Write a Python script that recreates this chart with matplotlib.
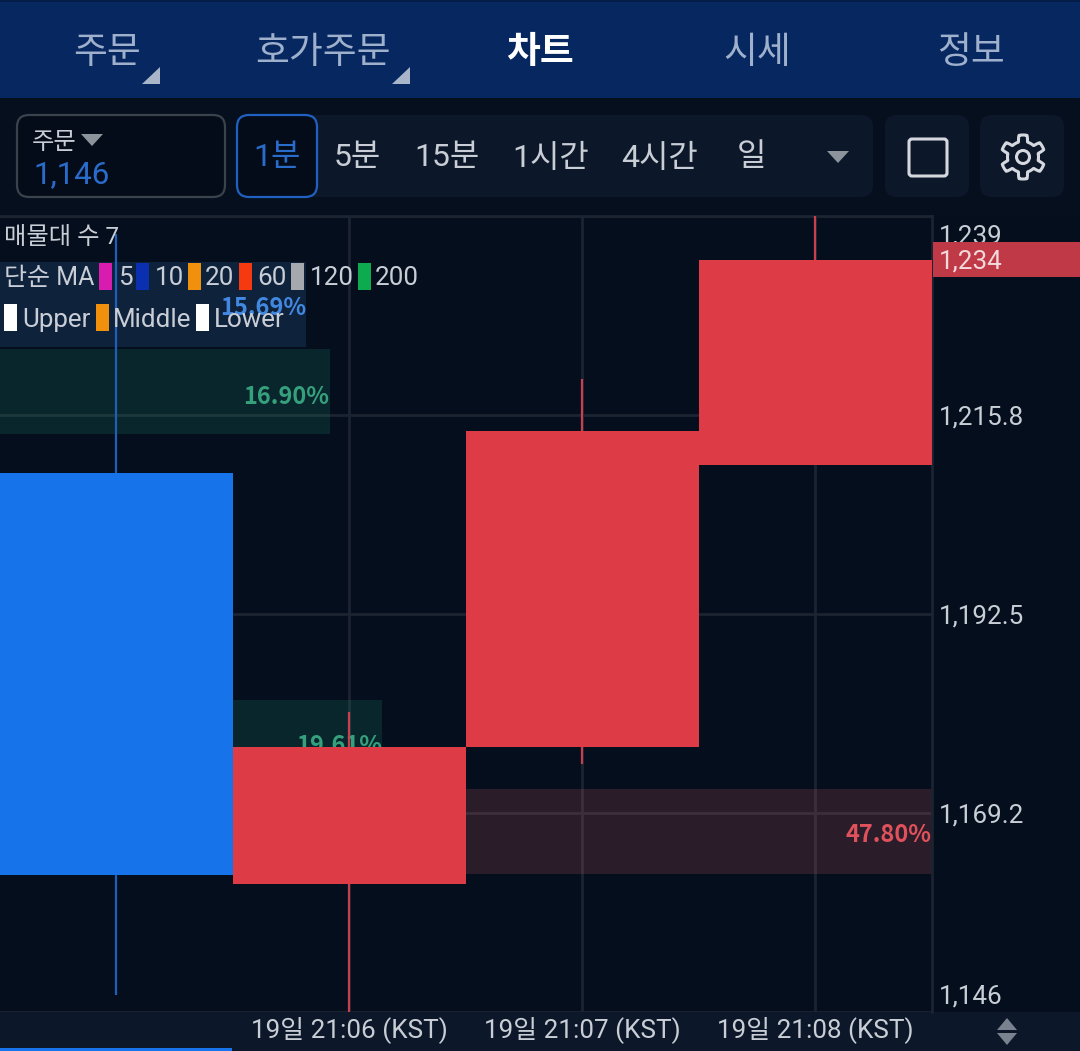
import numpy as np
import matplotlib
matplotlib.use("Agg")
import matplotlib.pyplot as plt
from matplotlib.patches import FancyBboxPatch, Rectangle, Polygon, Circle
from matplotlib.transforms import ScaledTranslation

plt.rcParams['font.family'] = ['Roboto', 'Noto Sans CJK KR', 'DejaVu Sans']
KR = ['Noto Sans CJK KR', 'Roboto', 'DejaVu Sans']

# ---------- data ----------
time_labels = ['19일 21:06 (KST)', '19일 21:07 (KST)', '19일 21:08 (KST)']
candle_pos = [0, 1, 2, 3]
opens = [1209.0, 1161.0, 1177.0, 1209.9]
closes = [1162.0, 1177.0, 1213.9, 1233.9]
highs = [1236.9, 1181.0, 1220.0, 1239.0]
lows = [1148.0, 1146.0, 1175.0, 1209.9]
price_ticks = [1146, 1169.2, 1192.5, 1215.8, 1239]
price_tick_labels = ['1,146', '1,169.2', '1,192.5', '1,215.8', '1,239']
band_low = [1223.7, 1213.5, 1172.4, 1162.1]
band_high = [1233.6, 1223.5, 1182.4, 1172.0]
band_pct = [15.69, 16.90, 19.61, 47.80]
band_color = ['#4a86d8', '#2aa07c', '#2aa07c', '#e8646a']
band_text_color = ['#4288e0', '#35a07c', '#35a07c', '#df525c']
band_text_shift = [-3, -6, -3, -3]
last_price = 1234
order_price = '1,146'
tabs = ['주문', '호가주문', '차트', '시세', '정보']
periods = ['1분', '5분', '15분', '1시간', '4시간', '일']
ma_labels = ['5', '10', '20', '60', '120', '200']
ma_colors = ['#d81cb0', '#0a2fb0', '#f0900c', '#f53a10', '#a5a9ad', '#0eaa4f']
bb_labels = ['Upper', 'Middle', 'Lower']
bb_colors = ['#ffffff', '#f0900c', '#ffffff']

W, H = 1080, 1051
BG = '#040e1d'
PANEL = '#0c1829'
GRID = '#1b2430'
TXT = '#c9ced6'
BLUE = '#1673ea'
RED = '#dd3b46'
TOP, BOT, RIGHT = 216, 1012, 932

fig = plt.figure(figsize=(W / 100, H / 100), dpi=100, facecolor=BG)
fig.add_artist(Rectangle((0, 0), 1, (H - BOT) / H, transform=fig.transFigure,
                         fc=PANEL, ec='none', zorder=-1))

# ---------- chart ----------
ax = fig.add_axes([0, 1 - BOT / H, RIGHT / W, (BOT - TOP) / H], facecolor=BG)
ax.set_xlim(-116 / 233, (RIGHT - 116) / 233)
ax.set_ylim(min(price_ticks), max(price_ticks))
ax.set_axisbelow(True)
ax.grid(True, color=GRID, lw=2)
for k, s in ax.spines.items():
    s.set_visible(k in ('right', 'top'))
    s.set_color(GRID)
    s.set_linewidth(2)

x0, x1 = ax.get_xlim()
max_pct = max(band_pct)
for lo, hi, p, c, tc, sh in zip(band_low, band_high, band_pct, band_color, band_text_color, band_text_shift):
    w = p / max_pct * (x1 - x0)
    ax.barh((lo + hi) / 2, w, height=hi - lo, left=x0, color=c, alpha=0.17, lw=0, zorder=1)
    ax.annotate(f'{p:.2f}%', xy=(x0 + w, (lo + hi) / 2), xytext=(0, sh), textcoords='offset pixels',
                color=tc, ha='right', va='center', fontsize=17, fontweight='bold',
                family=KR, zorder=2)

for x, o, c, h, l in zip(candle_pos, opens, closes, highs, lows):
    up = c >= o
    col = RED if up else BLUE
    wick = '#c8404e' if up else '#1f5fb8'
    ax.vlines(x, l, h, color=wick, lw=1.6, zorder=3)
    ax.bar(x, abs(c - o), bottom=min(o, c), width=1.0, color=col, lw=0, zorder=4)

ax.set_xticks([1, 2, 3], time_labels)
ax.tick_params(axis='x', length=0, pad=3, labelsize=18.7, labelcolor=TXT)
ax.yaxis.tick_right()
ax.set_yticks(price_ticks, price_tick_labels)
ax.tick_params(axis='y', length=0, pad=5, labelsize=18.7, labelcolor=TXT)
for t, lab in zip(ax.yaxis.get_major_ticks(), price_tick_labels):
    dy = {'1,146': 18, '1,239': -18}.get(lab, 0)
    if dy:
        t.label2.set_transform(t.label2.get_transform() +
                               ScaledTranslation(0, dy / 100, fig.dpi_scale_trans))

# ---------- interface chrome, in pixels ----------
ui = fig.add_axes([0, 0, 1, 1], facecolor='none', zorder=5)
ui.set_xlim(0, W)
ui.set_ylim(H, 0)
ui.axis('off')


def rect(x0, y0, x1, y1, c, z=0):
    ui.add_patch(Rectangle((x0, y0), x1 - x0, y1 - y0, fc=c, ec='none', zorder=z))


def rbox(x0, y0, x1, y1, fc, ec='none', lw=0, r=12):
    ui.add_patch(FancyBboxPatch((x0 + r, y0 + r), x1 - x0 - 2 * r, y1 - y0 - 2 * r,
                                boxstyle=f'round,pad={r},rounding_size={r}',
                                fc=fc, ec=ec, lw=lw, mutation_aspect=1))


def tri(pts, c):
    ui.add_patch(Polygon(pts, closed=True, fc=c, ec='none'))


# header
rect(0, 0, W, 98, '#062760')
rect(0, 0, W, 2, '#041c48')
for lab, cx in zip(tabs, [107, 323, 540, 757, 971]):
    sel = lab == '차트'
    ui.text(cx, 52, lab, ha='center', va='center', fontsize=26.5, family=KR,
            color='#ffffff' if sel else '#9fb0cc', fontweight='bold' if sel else 'normal')
tri([(142, 84), (160, 84), (160, 67)], '#a9b5c8')
tri([(392, 84), (410, 84), (410, 67)], '#a9b5c8')

# toolbar
rect(0, 98, W, 215, '#050f1e')
rbox(17, 115, 225, 197, '#040c1a', '#3a424c', 1.6)
ui.text(32, 142, '주문', ha='left', va='center', fontsize=17.5, family=KR, color=TXT)
tri([(81, 134), (103, 134), (92, 146)], '#8d939b')
ui.text(33, 175, order_price, ha='left', va='center', fontsize=22.5, color='#2a6ccb')
rbox(250, 115, 873, 197, PANEL)
rbox(237, 115, 317, 197, '#040c1a', '#2060c0', 1.6)
for lab, cx in zip(periods, [277, 357, 447, 551, 659, 751]):
    ui.text(cx, 158, lab, ha='center', va='center', fontsize=23,
            family=['Roboto', 'Noto Sans CJK KR'],
            color='#2a6ccb' if lab == '1분' else TXT)
tri([(827, 151), (849, 151), (838, 163)], '#8d939b')
rbox(885, 115, 969, 197, PANEL)
rbox(980, 115, 1064, 197, PANEL)
rbox(909, 139, 947, 176, 'none', '#d5d9df', 2.2, r=3)

# gear icon
ang = np.linspace(0, 2 * np.pi, 241)
rad = 15.5 + 6.5 * np.clip(1.6 * np.cos(6 * (ang + np.pi / 2)) + 0.3, 0, 1)
ui.add_patch(Polygon(np.c_[1023 + rad * np.cos(ang), 157 + rad * np.sin(ang)], closed=True,
                     fc='none', ec='#d5d9df', lw=2.2, joinstyle='round'))
ui.add_patch(Circle((1023, 157), 6.5, fc='none', ec='#d5d9df', lw=2.2))

# legend rows
ui.text(4, 237, '매물대 수 7', ha='left', va='center', fontsize=17.5,
        family=['Roboto', 'Noto Sans CJK KR'], color=TXT)
ui.text(4, 278, '단순 MA', ha='left', va='center', fontsize=18,
        family=['Roboto', 'Noto Sans CJK KR'], color=TXT)
for lab, c, sx, tx in zip(ma_labels, ma_colors, [99, 136, 188, 239, 291, 358], [118, 155, 205, 257, 310, 375]):
    rect(sx, 263, sx + 13, 290, c)
    ui.text(tx, 278, lab, ha='left', va='center', fontsize=18.7, color=TXT)
for lab, c, sx, tx in zip(bb_labels, bb_colors, [4, 96, 196], [22, 113, 214]):
    rect(sx, 304, sx + 13, 331, c)
    ui.text(tx, 320, lab, ha='left', va='center', fontsize=18.7, color=TXT)

# last price tag
rect(933, 242, W, 277, '#bf3a46')
ui.text(939, 262, f'{last_price:,}', ha='left', va='center', fontsize=18.7, color='#f3d9dc')

# bottom bar
rect(0, 1048, 232, H, BLUE)
tri([(1007, 1018), (997, 1030), (1017, 1030)], '#7a828f')
tri([(997, 1033), (1017, 1033), (1007, 1045)], '#7a828f')

fig.savefig('out.png', dpi=100, facecolor=BG)
